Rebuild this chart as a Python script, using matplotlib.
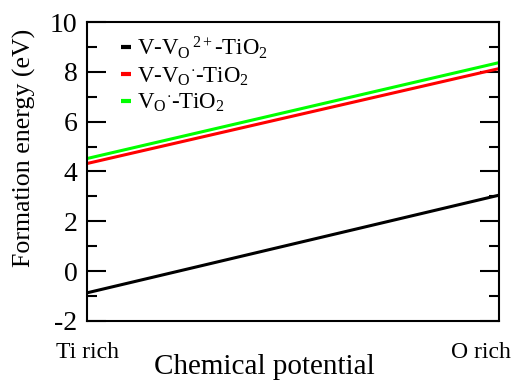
import matplotlib
matplotlib.use("Agg")
import matplotlib.pyplot as plt
from matplotlib.ticker import MultipleLocator

plt.rcParams['font.family'] = ['Liberation Serif', 'DejaVu Serif']
plt.rcParams['mathtext.fontset'] = 'custom'
plt.rcParams['mathtext.rm'] = 'Liberation Serif'
plt.rcParams['mathtext.it'] = 'Liberation Serif:italic'
plt.rcParams['axes.unicode_minus'] = False

x = [0, 1]
series_labels = [r'V-V$_\mathrm{O}$$^{\,2+}$-TiO$_2$',
                 r'V-V$_\mathrm{O}$$^{\cdot}$-TiO$_2$',
                 r'V$_\mathrm{O}$$^{\cdot}$-TiO$_2$']
series_values = [[-0.87, 3.05],
                 [4.32, 8.13],
                 [4.52, 8.37]]
colors = ['#000000', '#ff0000', '#00ff00']
x_ticklabels = ['Ti rich', 'O rich']

fig = plt.figure(figsize=(5.21, 3.80), dpi=100)
ax = fig.add_axes([87/521, 1-321/380, (499-87)/521, (321-22)/380])

for vals, lab, c in zip(series_values, series_labels, colors):
    ax.plot(x, vals, color=c, lw=2.2, label=lab, solid_capstyle='butt')

ax.set_xlim(0, 1)
ax.set_ylim(-2, 10)
ax.yaxis.set_major_locator(MultipleLocator(2))
ax.yaxis.set_minor_locator(MultipleLocator(1))
ax.tick_params(axis='y', which='both', direction='in', left=True, right=True,
               labelsize=20, pad=7)
ax.tick_params(axis='y', which='major', length=14, width=1.5)
ax.tick_params(axis='y', which='minor', length=7, width=1.5)
ax.set_xticks([])
for s in ax.spines.values():
    s.set_linewidth(1.5)

ax.text(0, -0.07, x_ticklabels[0], transform=ax.transAxes, ha='center', va='top', fontsize=17)
ax.text(0.955, -0.07, x_ticklabels[1], transform=ax.transAxes, ha='center', va='top', fontsize=17)
fig.text(264/521, 1-374/380, 'Chemical potential', ha='center', va='baseline', fontsize=21)
fig.text(24/521, 1-148/380, 'Formation energy (eV)', ha='center', va='center',
         rotation=90, fontsize=18.6)

leg = ax.legend(loc='upper left', bbox_to_anchor=(0.06, 0.99), frameon=False,
                fontsize=16.5, handlelength=0.45, handletextpad=0.25, labelspacing=0.2,
                borderaxespad=0)
for h in leg.get_lines():
    h.set_linewidth(3)

fig.savefig('out.png', dpi=100)
